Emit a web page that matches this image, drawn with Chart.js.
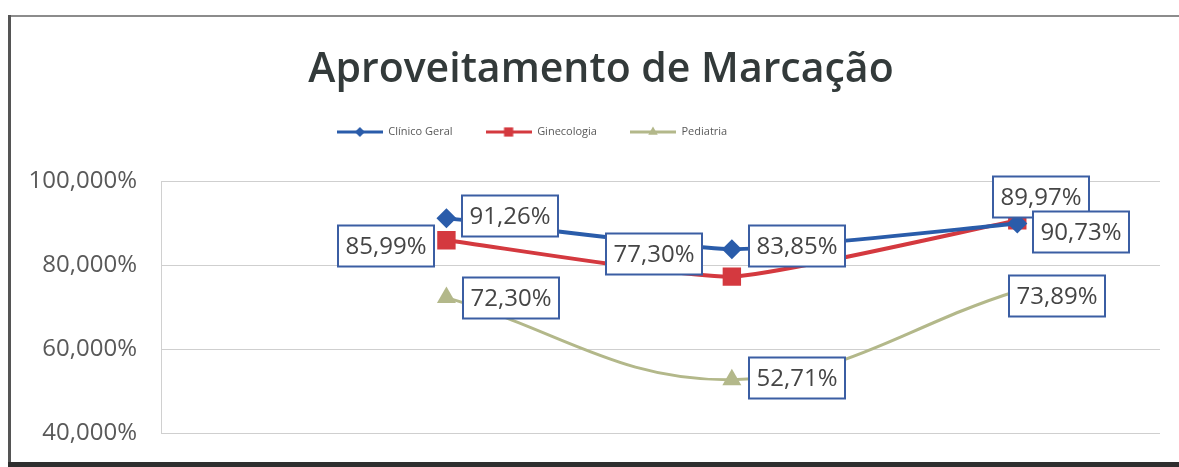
<!DOCTYPE html>
<html lang="pt">
<head>
<meta charset="utf-8">
<title>Aproveitamento de Marcação</title>
<script src="https://cdn.jsdelivr.net/npm/chart.js@4.4.1/dist/chart.umd.min.js"></script>
<style>
  html, body { margin: 0; padding: 0; background: #fff; overflow: hidden; }
  #chart { display: block; width: 1179px; height: 467px; }
</style>
</head>
<body>
<canvas id="chart" width="1179" height="467"></canvas>
<script>
// three periods, no axis labels shown
const periods = [0, 1, 2];
const clinicoGeral = [91.26, 83.85, 89.97];
const ginecologia = [85.99, 77.30, 90.73];
const pediatria = [72.30, 52.71, 73.89];
const yTicks = [40, 60, 80, 100];

// where each value box sits relative to its point (px)
const labelShift = [
  [[64, -2], [65, -3], [24, -27]],
  [[-60, 6], [-78, -23], [64, 12]],
  [[65, 0], [65, -2], [40, 5]],
];

const FONT = '"Open Sans", "Liberation Sans", sans-serif';

function toPoints(values) {
  return periods.map((x, i) => ({ x, y: values[i] }));
}

// little line + marker swatch for the legend
function legendIcon(color, style, radius) {
  const c = document.createElement('canvas');
  c.width = 46;
  c.height = 14;
  const g = c.getContext('2d');
  g.strokeStyle = color;
  g.lineWidth = 3;
  g.beginPath();
  g.moveTo(0, 7);
  g.lineTo(46, 7);
  g.stroke();
  g.fillStyle = color;
  Chart.helpers.drawPoint(g, { pointStyle: style, radius, borderWidth: 0 }, 23, 7);
  return c;
}

const valueBoxes = {
  id: 'valueBoxes',
  afterDatasetsDraw(chart) {
    const ctx = chart.ctx;
    ctx.save();
    ctx.font = '24px ' + FONT;
    ctx.textAlign = 'center';
    ctx.textBaseline = 'middle';
    chart.data.datasets.forEach((ds, i) => {
      chart.getDatasetMeta(i).data.forEach((pt, j) => {
        const text = ds.data[j].y.toFixed(2).replace('.', ',') + '%';
        const w = Math.round(ctx.measureText(text).width + 15);
        const h = 41;
        const cx = Math.round(pt.x + labelShift[i][j][0]);
        const cy = Math.round(pt.y + labelShift[i][j][1]);
        ctx.fillStyle = '#fff';
        ctx.fillRect(cx - w / 2, cy - h / 2, w, h);
        ctx.strokeStyle = '#3b5ea3';
        ctx.lineWidth = 2;
        ctx.strokeRect(cx - w / 2, cy - h / 2, w, h);
        ctx.fillStyle = '#454545';
        ctx.fillText(text, cx, cy + 1);
      });
    });
    ctx.restore();
  },
};

// chart frame: thin top edge, darker left edge, heavy bottom edge, open on the right
const frame = {
  id: 'frame',
  afterDraw(chart) {
    const ctx = chart.ctx;
    ctx.save();
    ctx.fillStyle = '#8c8c8c';
    ctx.fillRect(8, 15, chart.width - 8, 2);
    ctx.fillStyle = '#555';
    ctx.fillRect(8, 15, 3, chart.height - 15);
    ctx.fillStyle = '#2e2e2e';
    ctx.fillRect(8, 462, chart.width - 8, 5);
    ctx.restore();
  },
};

// more room under the legend, and nudge title/legend sideways
const layoutTweaks = {
  id: 'layoutTweaks',
  beforeInit(chart) {
    const fit = chart.legend.fit;
    chart.legend.fit = function () {
      fit.call(this);
      this.height += 34;
    };
  },
  afterLayout(chart) {
    chart.titleBlock.left += 21;
    chart.titleBlock.right += 21;
    chart.legend.left -= 48;
    chart.legend.right -= 48;
  },
};

const series = [
  { label: 'Clínico Geral', data: clinicoGeral, color: '#2a5caa', style: 'rectRot', radius: 10, width: 4 },
  { label: 'Ginecologia', data: ginecologia, color: '#d4393f', style: 'rect', radius: 13, width: 4 },
  { label: 'Pediatria', data: pediatria, color: '#b3b88a', style: 'triangle', radius: 11, width: 3 },
];
const icons = series.map(s => legendIcon(s.color, s.style, s.radius / 2));

new Chart(document.getElementById('chart'), {
  type: 'line',
  data: {
    datasets: series.map(s => ({
      label: s.label,
      data: toPoints(s.data),
      borderColor: s.color,
      backgroundColor: s.color,
      borderWidth: s.width,
      pointStyle: s.style,
      pointRadius: s.radius,
      pointBorderWidth: 0,
      tension: s.style === 'triangle' ? 0.4 : 0.15,
    })),
  },
  options: {
    responsive: false,
    animation: false,
    layout: { padding: { left: 0, right: 19, top: 0, bottom: 34 } },
    plugins: {
      title: {
        display: true,
        text: 'Aproveitamento de Marcação',
        color: '#333a3a',
        font: { family: FONT, size: 41, weight: '600', lineHeight: 1 },
        padding: { top: 50, bottom: 2.5 },
      },
      legend: {
        labels: {
          usePointStyle: true,
          pointStyleWidth: 46,
          padding: 33,
          color: '#595959',
          font: { family: FONT, size: 11 },
          generateLabels: chart => chart.data.datasets.map((ds, i) => ({
            text: ds.label,
            pointStyle: icons[i],
            fillStyle: ds.borderColor,
            strokeStyle: ds.borderColor,
            lineWidth: 0,
            fontColor: '#595959',
            hidden: false,
            datasetIndex: i,
          })),
        },
      },
      tooltip: { enabled: false },
    },
    scales: {
      x: { type: 'linear', min: -1, max: 2.5, display: false },
      y: {
        min: 40,
        max: 100,
        afterBuildTicks: scale => { scale.ticks = yTicks.map(v => ({ value: v })); },
        afterFit: scale => {
          scale.width = 161;
          scale.paddingTop = 0;
          scale.paddingBottom = 0;
        },
        border: { display: true, color: '#d0d0d0' },
        grid: { color: '#cfcfcf', drawTicks: false },
        ticks: {
          padding: 24,
          color: '#595959',
          font: { family: FONT, size: 24 },
          callback: v => v.toFixed(3).replace('.', ',') + '%',
        },
      },
    },
  },
  plugins: [valueBoxes, frame, layoutTweaks],
});
</script>
</body>
</html>
